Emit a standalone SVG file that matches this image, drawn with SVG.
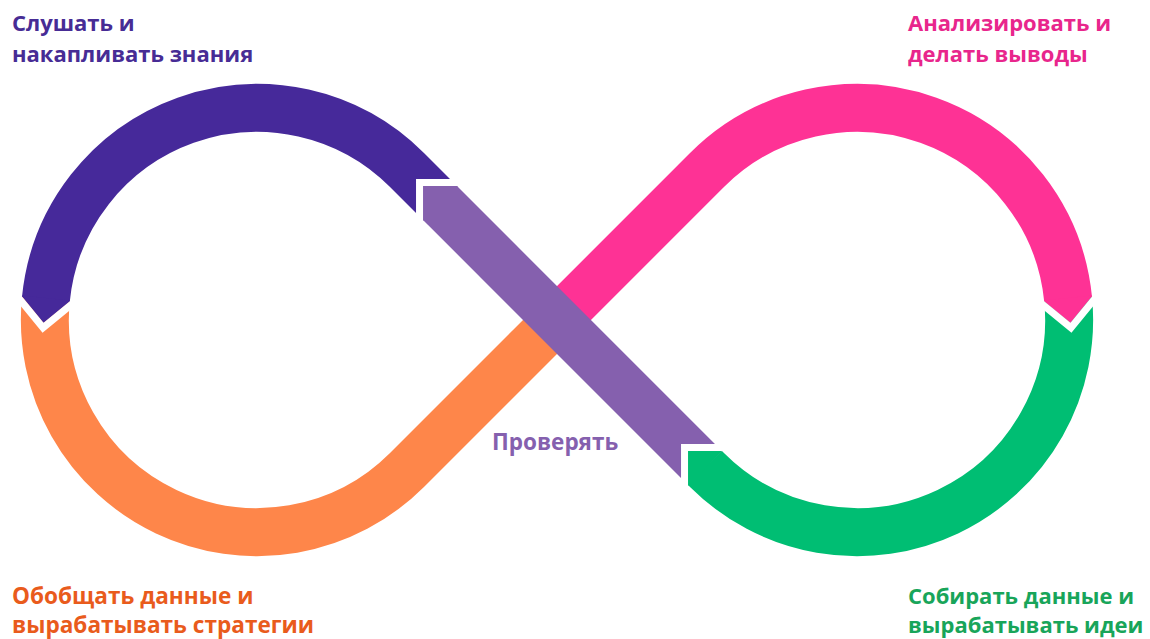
<svg xmlns="http://www.w3.org/2000/svg" width="1150" height="639" viewBox="0 0 1150 639">
<style>
.band{fill:none;stroke-width:48;stroke-linecap:butt;stroke-linejoin:round}
.gap{fill:none;stroke:#ffffff;stroke-width:7;stroke-linejoin:miter;stroke-linecap:butt}
.lbl{font-family:"Open Sans","Noto Sans","DejaVu Sans",sans-serif;font-weight:700;font-size:22px}
</style>
<rect width="1150" height="639" fill="#ffffff"/>
<g id="connectors">
<path id="seg-listen" class="band" stroke="#46299a" d="M 440 203 L 407 170 A 212.13 212.13 0 0 0 45.91 299"/>
<path id="seg-generalize" class="band" stroke="#fe864a" d="M 45.91 299 A 212.13 212.13 0 0 0 407 470 L 560 317"/>
<path id="seg-analyze" class="band" stroke="#fe3295" d="M 554 323 L 707 170 A 212.13 212.13 0 0 1 1068.09 299"/>
<path id="seg-collect" class="band" stroke="#00be73" d="M 1068.09 299 A 212.13 212.13 0 0 1 707 470 L 705 468"/>
<path id="seg-verify" class="band" stroke="#8560ae" d="M 705 468 L 440 203"/>
<polygon fill="#46299a" points="43.53,322.88 69.79,301.38 69.89,300.38 22.13,295.62 22.03,296.62"/>
<polyline class="gap" points="16.47,295.36 21.54,301.55 43.04,327.81 69.30,306.31 75.49,301.24"/>
<polygon fill="#fe3295" points="1070.47,322.88 1044.21,301.38 1044.11,300.38 1091.87,295.62 1091.97,296.62"/>
<polyline class="gap" points="1097.53,295.36 1092.46,301.55 1070.96,327.81 1044.70,306.31 1038.51,301.24"/>
<polygon fill="#8560ae" points="457.68,186.74 456.97,186.03 423.03,186.03 423.03,219.97 423.74,220.68"/>
<polyline class="gap" points="461.47,182.53 419.53,182.53 419.53,224.47"/>
<polygon fill="#00be73" points="721.68,451.74 720.97,451.03 688.03,451.03 688.03,484.97 688.74,485.68"/>
<polyline class="gap" points="726.47,447.53 684.53,447.53 684.53,489.47"/>
</g>
<g id="node-listen"><text class="lbl" fill="#472c95"><tspan x="12" y="31">Слушать и</tspan><tspan x="12" y="62">накапливать знания</tspan></text></g>
<g id="node-analyze"><text class="lbl" fill="#e8268c"><tspan x="908" y="31">Анализировать и</tspan><tspan x="908" y="62">делать выводы</tspan></text></g>
<g id="node-generalize"><text class="lbl" fill="#e95b1c" style="font-size:22.6px"><tspan x="12" y="604">Обобщать данные и</tspan><tspan x="12" y="633">вырабатывать стратегии</tspan></text></g>
<g id="node-collect"><text class="lbl" fill="#18a55a"><tspan x="908" y="604">Собирать данные и</tspan><tspan x="908" y="633">вырабатывать идеи</tspan></text></g>
<g id="node-verify"><text class="lbl" fill="#8560ae" x="492" y="450" style="font-size:22.5px">Проверять</text></g>
</svg>
